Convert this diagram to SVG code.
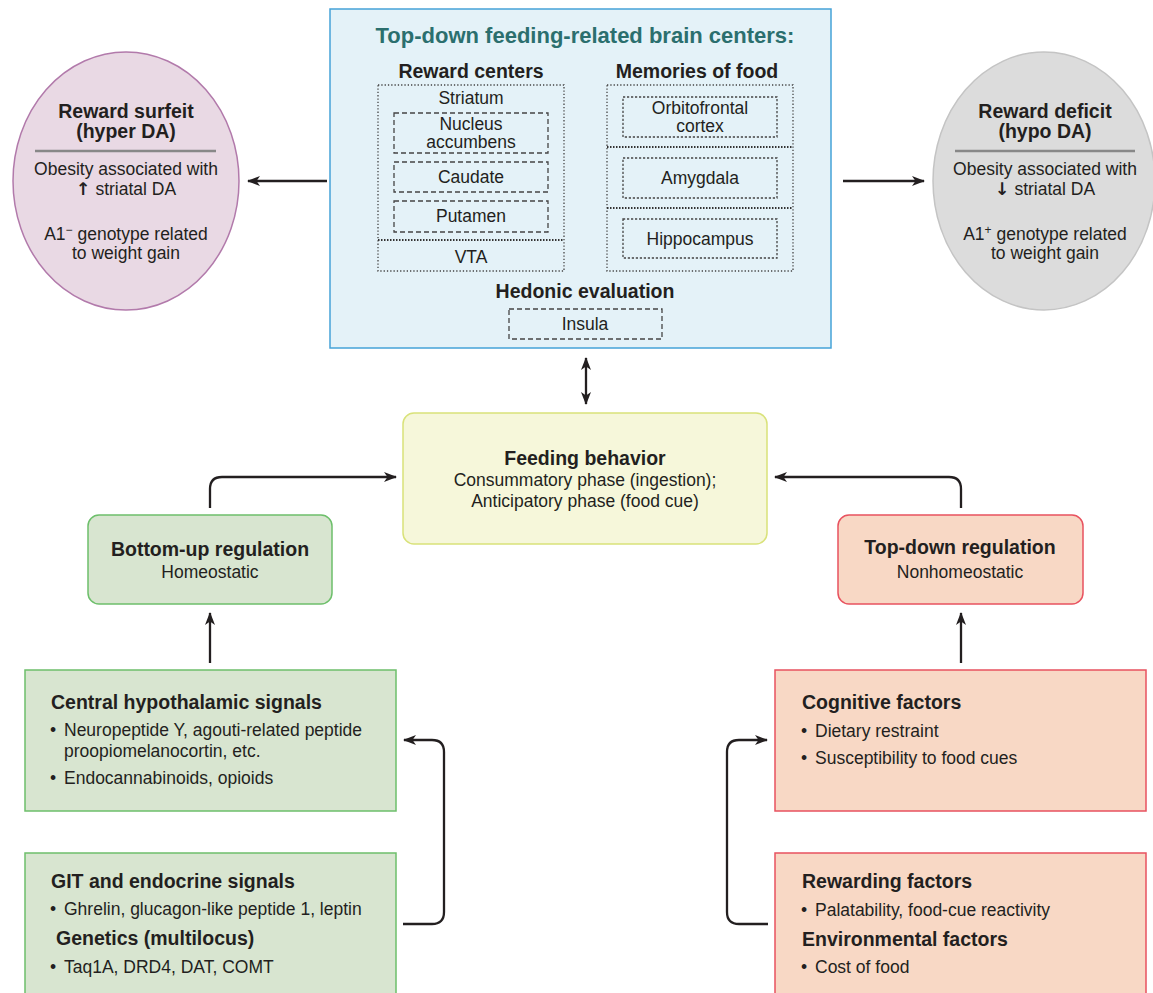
<svg xmlns="http://www.w3.org/2000/svg" width="1153" height="993" viewBox="0 0 1153 993">
<style>
text{font-family:"Liberation Sans",Arial,sans-serif;fill:#231f20;}
.t{font-size:22px;font-weight:bold;fill:#2b6f6e;text-anchor:middle;}
.h{font-size:19.5px;font-weight:bold;}
.b{font-size:17.5px;}
.c{text-anchor:middle;}
.ar{font-family:"DejaVu Sans",sans-serif;font-weight:bold;fill:#231f20;}
.outer{fill:none;stroke:#444;stroke-width:1.3;stroke-dasharray:1.3 2;}
.div{fill:none;stroke:#333;stroke-width:2.2;stroke-dasharray:1.5 1.5;}
.dash{fill:none;stroke:#444;stroke-width:1.3;stroke-dasharray:5 3;}
.dot{fill:none;stroke:#444;stroke-width:1.3;stroke-dasharray:2.2 1.8;}
.green{fill:#d8e5d0;stroke:#6dbf6b;stroke-width:1.5;}
.red{fill:#f8d8c5;stroke:#e8525f;stroke-width:1.5;}
.conn{fill:none;stroke:#231f20;stroke-width:2.3;}
</style>
<defs>
<marker id="ah" markerUnits="userSpaceOnUse" markerWidth="13" markerHeight="10" refX="12" refY="5" orient="auto-start-reverse">
<path d="M0,0 L13,5 L0,10 L3.5,5 z" fill="#231f20"/>
</marker>
</defs>

<g id="brain-centers">
<rect x="330" y="9" width="501" height="339" fill="#e4f2f8" stroke="#45a3d8" stroke-width="1.5"/>
<text class="t" x="585" y="43">Top-down feeding-related brain centers:</text>
<text class="h c" x="471" y="78">Reward centers</text>
<text class="h c" x="697" y="78">Memories of food</text>
<rect class="outer" x="378" y="85" width="186" height="186"/>
<line class="div" x1="378" y1="240" x2="564" y2="240"/>
<text class="b c" x="471" y="104">Striatum</text>
<rect class="dash" x="394" y="113" width="154" height="40"/>
<text class="b c" x="471" y="130">Nucleus</text>
<text class="b c" x="471" y="148">accumbens</text>
<rect class="dash" x="394" y="162" width="154" height="30"/>
<text class="b c" x="471" y="183">Caudate</text>
<rect class="dash" x="394" y="201" width="154" height="31"/>
<text class="b c" x="471" y="222">Putamen</text>
<text class="b c" x="471" y="263">VTA</text>
<rect class="outer" x="607" y="85" width="186" height="186"/>
<line class="div" x1="607" y1="147" x2="793" y2="147"/>
<line class="div" x1="607" y1="208" x2="793" y2="208"/>
<rect class="dot" x="623" y="97" width="154" height="40"/>
<text class="b c" x="700" y="114">Orbitofrontal</text>
<text class="b c" x="700" y="132">cortex</text>
<rect class="dot" x="623" y="158" width="154" height="40"/>
<text class="b c" x="700" y="184">Amygdala</text>
<rect class="dot" x="623" y="219" width="154" height="39"/>
<text class="b c" x="700" y="245">Hippocampus</text>
<text class="h c" x="585" y="298">Hedonic evaluation</text>
<rect class="dash" x="509" y="309" width="153" height="30"/>
<text class="b c" x="585" y="330">Insula</text>
</g>

<g id="reward-surfeit">
<ellipse cx="126" cy="181" rx="113" ry="129" fill="#e9d9e4" stroke="#b27aab" stroke-width="1.5"/>
<text class="h c" x="126" y="118">Reward surfeit</text>
<text class="h c" x="126" y="138">(hyper DA)</text>
<line x1="35" y1="151" x2="216" y2="151" stroke="#888" stroke-width="2.5"/>
<text class="b c" x="126" y="175">Obesity associated with</text>
<text class="b c" x="126" y="195"><tspan class="ar">↑</tspan> striatal DA</text>
<text class="b c" x="126" y="240">A1<tspan dy="-6" font-size="12">−</tspan><tspan dy="6"> genotype related</tspan></text>
<text class="b c" x="126" y="259">to weight gain</text>
</g>

<g id="reward-deficit">
<ellipse cx="1044" cy="181" rx="111" ry="129" fill="#dcdcdc" stroke="#c4c4c4" stroke-width="1.5"/>
<text class="h c" x="1045" y="118">Reward deficit</text>
<text class="h c" x="1045" y="138">(hypo DA)</text>
<line x1="955" y1="151" x2="1135" y2="151" stroke="#888" stroke-width="2.5"/>
<text class="b c" x="1045" y="175">Obesity associated with</text>
<text class="b c" x="1045" y="195"><tspan class="ar">↓</tspan> striatal DA</text>
<text class="b c" x="1045" y="240">A1<tspan dy="-6" font-size="12">+</tspan><tspan dy="6"> genotype related</tspan></text>
<text class="b c" x="1045" y="259">to weight gain</text>
</g>

<g id="feeding-behavior">
<rect x="403" y="413" width="364" height="131" rx="11" fill="#f6f7da" stroke="#d9e27a" stroke-width="1.5"/>
<text class="h c" x="585" y="465">Feeding behavior</text>
<text class="b c" x="585" y="486">Consummatory phase (ingestion);</text>
<text class="b c" x="585" y="507">Anticipatory phase (food cue)</text>
</g>

<g id="bottom-up">
<rect class="green" x="88" y="515" width="244" height="89" rx="11"/>
<text class="h c" x="210" y="556">Bottom-up regulation</text>
<text class="b c" x="210" y="578">Homeostatic</text>
</g>

<g id="top-down">
<rect class="red" x="838" y="515" width="245" height="89" rx="11"/>
<text class="h c" x="960" y="554">Top-down regulation</text>
<text class="b c" x="960" y="578">Nonhomeostatic</text>
</g>

<g id="central-hypothalamic">
<rect class="green" x="25" y="670" width="371" height="141"/>
<text class="h" x="51" y="709">Central hypothalamic signals</text>
<text class="b" x="50" y="736">•</text>
<text class="b" x="64" y="736">Neuropeptide Y, agouti-related peptide</text>
<text class="b" x="64" y="757">proopiomelanocortin, etc.</text>
<text class="b" x="50" y="784">•</text>
<text class="b" x="64" y="784">Endocannabinoids, opioids</text>
</g>

<g id="git-endocrine">
<rect class="green" x="25" y="853" width="371" height="150"/>
<text class="h" x="51" y="888">GIT and endocrine signals</text>
<text class="b" x="50" y="915">•</text>
<text class="b" x="64" y="915">Ghrelin, glucagon-like peptide 1, leptin</text>
<text class="h" x="56" y="945">Genetics (multilocus)</text>
<text class="b" x="50" y="973">•</text>
<text class="b" x="64" y="973">Taq1A, DRD4, DAT, COMT</text>
</g>

<g id="cognitive">
<rect class="red" x="775" y="670" width="371" height="141"/>
<text class="h" x="802" y="709">Cognitive factors</text>
<text class="b" x="801" y="737">•</text>
<text class="b" x="815" y="737">Dietary restraint</text>
<text class="b" x="801" y="764">•</text>
<text class="b" x="815" y="764">Susceptibility to food cues</text>
</g>

<g id="rewarding-environmental">
<rect class="red" x="775" y="853" width="371" height="150"/>
<text class="h" x="802" y="888">Rewarding factors</text>
<text class="b" x="801" y="916">•</text>
<text class="b" x="815" y="916">Palatability, food-cue reactivity</text>
<text class="h" x="802" y="946">Environmental factors</text>
<text class="b" x="801" y="973">•</text>
<text class="b" x="815" y="973">Cost of food</text>
</g>

<g id="connectors">
<line class="conn" x1="327" y1="181" x2="248" y2="181" marker-end="url(#ah)"/>
<line class="conn" x1="843" y1="181" x2="924" y2="181" marker-end="url(#ah)"/>
<line class="conn" x1="586" y1="358" x2="586" y2="404" marker-start="url(#ah)" marker-end="url(#ah)"/>
<path class="conn" d="M210,508 V489 Q210,477 222,477 H396" marker-end="url(#ah)"/>
<path class="conn" d="M961,508 V489 Q961,477 949,477 H775" marker-end="url(#ah)"/>
<line class="conn" x1="210" y1="663" x2="210" y2="613" marker-end="url(#ah)"/>
<line class="conn" x1="961" y1="663" x2="961" y2="613" marker-end="url(#ah)"/>
<path class="conn" d="M403,924 H432 Q444,924 444,912 V752 Q444,740 432,740 H404" marker-end="url(#ah)"/>
<path class="conn" d="M768,924 H739 Q727,924 727,912 V752 Q727,740 739,740 H767" marker-end="url(#ah)"/>
</g>
</svg>
